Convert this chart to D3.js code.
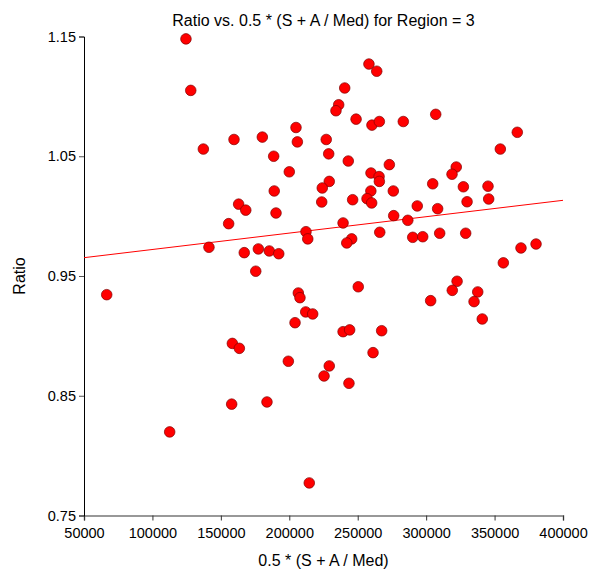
<!DOCTYPE html>
<html>
<head>
<meta charset="utf-8">
<script src="https://cdn.jsdelivr.net/npm/d3@7"></script>
<style>
  body { margin: 0; background: #fff; }
  text { font-family: Arial, 'Liberation Sans', sans-serif; }
</style>
</head>
<body>
<div id="chart-area"></div>
<script>
// values
const sizeAvg = [124500, 128000, 159600, 137200, 258200, 263900, 240500, 236100, 234100, 248800,
  260400, 265800, 283300, 204900, 180300, 205900, 227000, 228800, 188600, 243100,
  273100, 200000, 259700, 265600, 265800, 229200, 224100, 189000, 259600, 276000,
  307000, 366600, 354200, 322000, 318900, 304800, 327200, 345200, 163000, 168200,
  155700, 141300, 167100, 66600, 158400, 163500, 223700, 246300, 256800, 260200,
  190300, 276300, 286600, 239300, 212200, 213500, 266100, 245600, 242000, 290200,
  297500, 177400, 185400, 192300, 175500, 250400, 206600, 207800, 212000, 217100,
  204200, 239300, 244100, 267500, 293500, 308400, 329900, 345700, 309900, 328900,
  369300, 380300, 356400, 322600, 319100, 337700, 335000, 303300, 341000, 157900,
  112600, 199300, 229200, 225400, 243600, 261200, 183700, 214600];
const ratio = [1.148, 1.105, 1.064, 1.056, 1.127, 1.121, 1.107, 1.093, 1.088, 1.081,
  1.076, 1.079, 1.079, 1.074, 1.066, 1.062, 1.064, 1.052, 1.050, 1.046,
  1.043, 1.037, 1.036, 1.033, 1.029, 1.029, 1.0235, 1.021, 1.021, 1.021,
  1.085, 1.070, 1.056, 1.041, 1.035, 1.027, 1.0245, 1.025, 1.010, 1.005,
  0.9937, 0.974, 0.9695, 0.9344, 0.8937, 0.8896, 1.0118, 1.0137, 1.0146, 1.011,
  1.0026, 1.0004, 0.9965, 0.9943, 0.987, 0.981, 0.9865, 0.981, 0.9776, 0.9823,
  0.9828, 0.9726, 0.9709, 0.9686, 0.954, 0.941, 0.9358, 0.9319, 0.920, 0.9183,
  0.911, 0.9035, 0.905, 0.9043, 1.0085, 1.0062, 1.012, 1.0143, 0.9857, 0.9857,
  0.9734, 0.9767, 0.961, 0.9456, 0.938, 0.9367, 0.9286, 0.9294, 0.9141, 0.843,
  0.8198, 0.8788, 0.8749, 0.8665, 0.8604, 0.886, 0.8448, 0.7772];
const trendX = [50000, 400000];
const trendY = [0.9653, 1.0132];
const xTicks = [50000, 100000, 150000, 200000, 250000, 300000, 350000, 400000];
const yTicks = [0.75, 0.85, 0.95, 1.05, 1.15];

(() => {
  const width = 591;
  const height = 576;
  const margin = { left: 84, right: 28, top: 36.5, bottom: 60.5 };
  const innerW = width - margin.left - margin.right;
  const innerH = height - margin.top - margin.bottom;

  const points = sizeAvg.map((x, i) => ({ x, y: ratio[i] }));

  const scaleX = d3.scaleLinear().domain([50000, 400000]).range([0, innerW]);
  const scaleY = d3.scaleLinear().domain([0.75, 1.15]).range([innerH, 0]);

  const svg = d3.select('#chart-area').append('svg')
    .attr('width', width)
    .attr('height', height);

  svg.append('text')
    .text('Ratio vs. 0.5 * (S + A / Med) for Region = 3')
    .attr('x', margin.left + innerW / 2)
    .attr('y', 26)
    .attr('font-size', '16px')
    .attr('text-anchor', 'middle');

  const g = svg.append('g')
    .attr('transform', `translate(${margin.left}, ${margin.top})`);

  const axisX = d3.axisBottom(scaleX).tickValues(xTicks).tickSize(5).tickFormat(d3.format('d'));
  const axisY = d3.axisLeft(scaleY).tickValues(yTicks).tickSize(5).tickFormat(d3.format('.2f'));

  const gx = g.append('g')
    .attr('transform', `translate(0, ${innerH})`)
    .call(axisX);
  gx.select('.domain').attr('stroke', '#777').attr('stroke-width', 1.5);
  gx.selectAll('.tick line').attr('stroke', '#333');
  gx.selectAll('text')
    .attr('font-size', '14.5px')
    .attr('fill', '#000')
    .attr('dy', '1.0em');

  const gy = g.append('g').call(axisY);
  gy.select('.domain').attr('stroke', '#000');
  gy.selectAll('.tick line').attr('stroke', '#555');
  gy.selectAll('text')
    .attr('font-size', '14.5px')
    .attr('fill', '#000');

  g.append('text')
    .text('0.5 * (S + A / Med)')
    .attr('x', innerW / 2)
    .attr('y', innerH + 50)
    .attr('font-size', '16px')
    .attr('text-anchor', 'middle');

  g.append('text')
    .text('Ratio')
    .attr('transform', `translate(-59, ${innerH / 2}) rotate(-90)`)
    .attr('font-size', '16px')
    .attr('text-anchor', 'middle');

  g.append('path')
    .datum(trendX.map((x, i) => [x, trendY[i]]))
    .attr('fill', 'none')
    .attr('stroke', '#ff0000')
    .attr('stroke-width', 1)
    .attr('d', d3.line().x(d => scaleX(d[0])).y(d => scaleY(d[1])));

  g.selectAll('circle')
    .data(points)
    .enter()
    .append('circle')
      .attr('cx', d => scaleX(d.x))
      .attr('cy', d => scaleY(d.y))
      .attr('r', 5.3)
      .attr('fill', '#ff0000')
      .attr('stroke', '#800000')
      .attr('stroke-width', 0.7);
})();
</script>
</body>
</html>
